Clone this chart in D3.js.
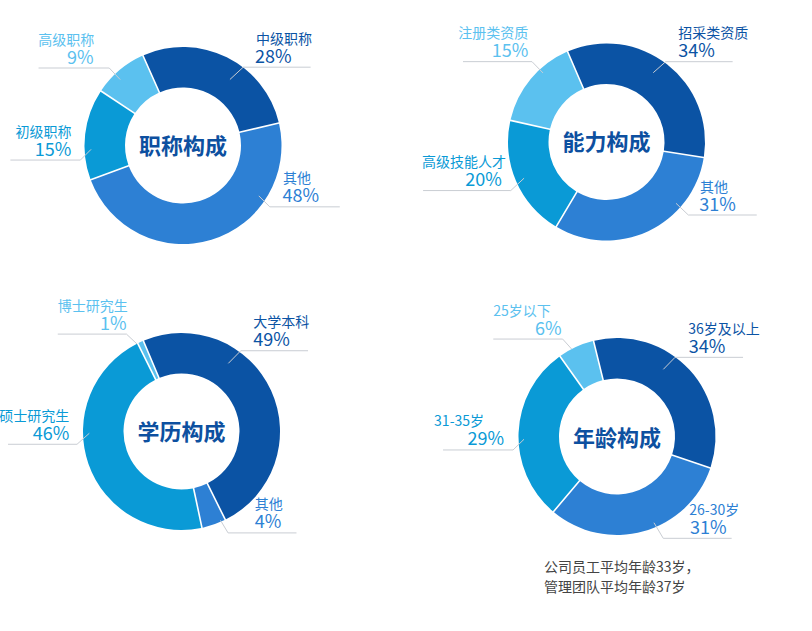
<!DOCTYPE html>
<html>
<head>
<meta charset="utf-8">
<script src="https://cdn.jsdelivr.net/npm/d3@7/dist/d3.min.js"></script>
<style>
  html, body { margin: 0; padding: 0; background: #fff; }
  svg { display: block; font-family: "Noto Sans CJK SC", "Noto Sans", sans-serif; }
</style>
</head>
<body>
<svg id="chart" width="812" height="631"></svg>
<script>
// data
const titles = ["职称构成", "能力构成", "学历构成", "年龄构成"];
const titleNames = ["中级职称", "其他", "初级职称", "高级职称"];
const titleValues = [28, 48, 15, 9];
const abilityNames = ["招采类资质", "其他", "高级技能人才", "注册类资质"];
const abilityValues = [34, 31, 20, 15];
const eduNames = ["大学本科", "其他", "硕士研究生", "博士研究生"];
const eduValues = [49, 4, 46, 1];
const ageNames = ["36岁及以上", "26-30岁", "31-35岁", "25岁以下"];
const ageValues = [34, 31, 29, 6];
const noteLines = ["公司员工平均年龄33岁，", "管理团队平均年龄37岁"];

const colors = ["#0b53a4", "#2d80d4", "#0a9ad6", "#5bc1ef"];

// layout: center, start angle, and leader line per slice
// a/r = anchor point in the ring, e = elbow, len = horizontal run, nx/px = text offsets from elbow
const panels = [
    {
        names: titleNames, values: titleValues, cx: 183, cy: 145.5, start: -24, titleDy: 8.5,
        leaders: [
            { a: 35.4, r: 81, ex: 13.3, ey: -12.3, len: 67.4, nx: 12.7, px: 11.7 },
            { a: 123.6, r: 91, ex: 11, ey: 11, len: 70, nx: 13.3, px: 12.7 },
            { a: 267.6, r: 92, ex: -10.7, ey: 10.7, len: 70, nx: -9, px: -9 },
            { a: -43.6, r: 91, ex: -11, ey: -11.6, len: 70.7, nx: -15, px: -15.7 },
        ],
    },
    {
        names: abilityNames, values: abilityValues, cx: 606.5, cy: 142, start: -23.3, titleDy: 7.5,
        leaders: [
            { a: 34, r: 83.6, ex: 12.4, ey: -11, len: 67, nx: 12.6, px: 12.6 },
            { a: 131.4, r: 92.7, ex: 12.3, ey: 11.7, len: 68.4, nx: 11.7, px: 11 },
            { a: 246.3, r: 90, ex: -13.3, ey: 12.4, len: 87.7, nx: -4.7, px: -9 },
            { a: -42.6, r: 93.8, ex: -11, ey: -11.3, len: 69, nx: -3.7, px: -3.7 },
        ],
    },
    {
        names: eduNames, values: eduValues, cx: 181.5, cy: 431.5, start: -22.8, titleDy: 8.5,
        leaders: [
            { a: 34.5, r: 82.7, ex: 12.4, ey: -12.6, len: 67.3, nx: 12.6, px: 12.6 },
            { a: 156.3, r: 97, ex: 7.6, ey: 12.6, len: 68.4, nx: 26.7, px: 26.7 },
            { a: 268.9, r: 92.2, ex: -12.3, ey: 11, len: 69, nx: -7.7, px: -7.7 },
            { a: -26.9, r: 98, ex: -10.7, ey: -10, len: 68.7, nx: 1.3, px: 0 },
        ],
    },
    {
        names: ageNames, values: ageValues, cx: 617, cy: 436.5, start: -13.8, titleDy: 9,
        leaders: [
            { a: 34.6, r: 81.6, ex: 11.7, ey: -12, len: 68, nx: 13.3, px: 13.7 },
            { a: 156.8, r: 93.8, ex: 9.3, ey: 15.6, len: 68.4, nx: 26, px: 26.7 },
            { a: 268.3, r: 93, ex: -11, ey: 10.7, len: 70, nx: -29, px: -9 },
            { a: -27.4, r: 98.5, ex: -9, ey: -10, len: 69.4, nx: -12, px: -1 },
        ],
    },
];

const svg = d3.select("#chart");
const rad = Math.PI / 180;
const arc = d3.arc().innerRadius(58).outerRadius(98.5).padAngle(0.014);

panels.forEach((p, pi) => {
    const pie = d3.pie().sort(null).value((d) => d)
        .startAngle(p.start * rad).endAngle(p.start * rad + 2 * Math.PI);
    const arcs = pie(p.values);
    const g = svg.append("g").attr("transform", `translate(${p.cx},${p.cy})`);

    g.selectAll("path.slice")
        .data(arcs)
        .join("path")
        .attr("class", "slice")
        .attr("d", arc)
        .attr("fill", (d, i) => colors[i]);

    g.append("text")
        .attr("text-anchor", "middle")
        .attr("y", p.titleDy)
        .attr("fill", "#0d50a0")
        .attr("font-size", "22px")
        .attr("font-weight", "700")
        .text(titles[pi]);

    p.leaders.forEach((l, i) => {
        const x0 = l.r * Math.sin(l.a * rad);
        const y0 = -l.r * Math.cos(l.a * rad);
        const kx = x0 + l.ex;
        const ky = y0 + l.ey;
        const side = l.ex > 0 ? 1 : -1;
        const anchor = side > 0 ? "start" : "end";
        g.append("path")
            .attr("d", d3.line()([[x0, y0], [kx, ky], [kx + side * l.len, ky]]))
            .attr("fill", "none")
            .attr("stroke", "#c9cdd3")
            .attr("stroke-width", 1);
        g.append("text")
            .attr("x", kx + l.nx)
            .attr("y", ky - 23.5)
            .attr("text-anchor", anchor)
            .attr("fill", colors[i])
            .attr("font-size", "14px")
            .text(p.names[i]);
        g.append("text")
            .attr("x", kx + l.px)
            .attr("y", ky - 4.5)
            .attr("text-anchor", anchor)
            .attr("fill", colors[i])
            .attr("font-size", "18px")
            .text(`${p.values[i]}%`);
    });
});

svg.append("g")
    .selectAll("text")
    .data(noteLines)
    .join("text")
    .attr("x", 544)
    .attr("y", (d, i) => 572 + i * 20)
    .attr("fill", "#444")
    .attr("font-size", "14px")
    .text((d) => d);
</script>
</body>
</html>
